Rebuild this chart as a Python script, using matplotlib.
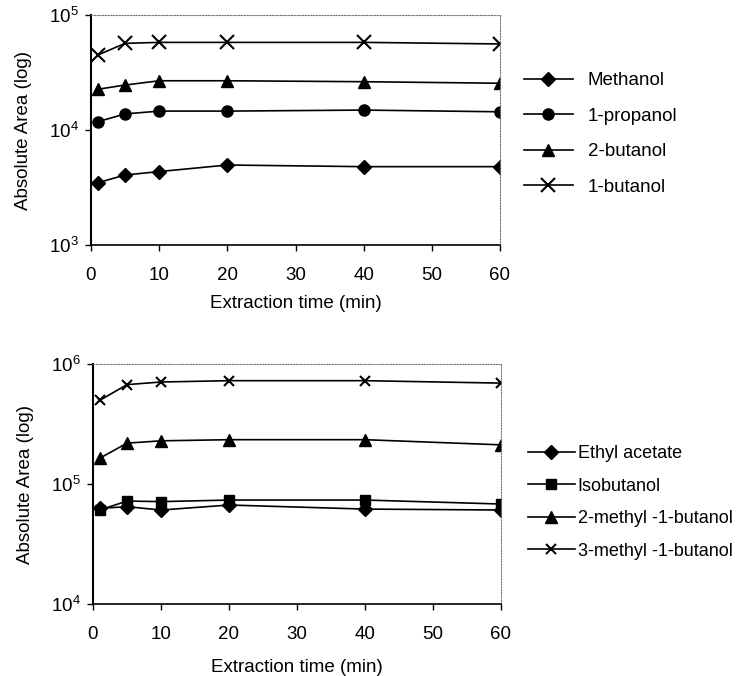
import matplotlib
matplotlib.use("Agg")
import matplotlib.pyplot as plt
from matplotlib.ticker import LogLocator, NullLocator, FixedLocator

plt.rcParams['font.family'] = ['Liberation Sans', 'DejaVu Sans']
plt.rcParams['mathtext.fontset'] = 'custom'
plt.rcParams['mathtext.rm'] = 'Liberation Sans'

time_min = [1, 5, 10, 20, 40, 60]

top_names = ["Methanol", "1-propanol", "2-butanol", "1-butanol"]
methanol = [3480, 4060, 4350, 4960, 4800, 4800]
propanol_1 = [11800, 13800, 14600, 14600, 14900, 14400]
butanol_2 = [22600, 24600, 26800, 26800, 26300, 25500]
butanol_1 = [44900, 56700, 57800, 57800, 57800, 56000]

bottom_names = ["Ethyl acetate", "Isobutanol", "2-methyl -1-butanol", "3-methyl -1-butanol"]
ethyl_acetate = [62700, 64700, 60700, 66800, 61800, 60700]
isobutanol = [60700, 72100, 71300, 73500, 73500, 68100]
methyl2_butanol1 = [164000, 219000, 229000, 234000, 234000, 212000]
methyl3_butanol1 = [498000, 673000, 708000, 726000, 726000, 693000]

x_ticks = [0, 10, 20, 30, 40, 50, 60]

fig = plt.figure(figsize=(7.41, 6.76), dpi=100)
ax1 = fig.add_axes([91/741, 1-245/676, 409/741, 230/676])
ax2 = fig.add_axes([93/741, 1-604/676, 408/741, 240/676])

FS = 13.5

def style(ax, ylim):
    ax.set_yscale('log')
    ax.set_xlim(0, 60)
    ax.set_ylim(*ylim)
    ax.xaxis.set_major_locator(FixedLocator(x_ticks))
    ax.yaxis.set_major_locator(LogLocator(base=10))
    ax.yaxis.set_minor_locator(NullLocator())
    ax.xaxis.set_minor_locator(NullLocator())
    for s in ['top', 'right']:
        ax.spines[s].set_linestyle((0, (1, 1.5)))
        ax.spines[s].set_color('#777777')
        ax.spines[s].set_linewidth(0.8)
    ax.spines['left'].set_linewidth(1.5)
    ax.spines['bottom'].set_linewidth(1.2)
    ax.tick_params(axis='both', direction='out', length=4, width=1, labelsize=FS)
    ax.tick_params(axis='x', pad=12)
    ax.tick_params(axis='y', pad=5)
    ax.set_ylabel('Absolute Area (log)', fontsize=FS, labelpad=12)

markers_top = ['D', 'o', '^', 'x']
sizes_top = [7, 8, 8, 10]
series_top = [methanol, propanol_1, butanol_2, butanol_1]
for name, vals, m, ms in zip(top_names, series_top, markers_top, sizes_top):
    ax1.plot(time_min, vals, color='black', lw=1.2, marker=m, ms=ms,
             mew=1.5 if m == 'x' else 1, label=name)
style(ax1, (1e3, 1e5))
ax1.set_xlabel('Extraction time (min)', fontsize=FS, labelpad=8)
ax1.legend(loc='upper left', bbox_to_anchor=(524/741, 1-72/676), bbox_transform=fig.transFigure,
           frameon=False, fontsize=FS, handlelength=2.6, handletextpad=0.8, labelspacing=0.98,
           borderaxespad=0, borderpad=0)

markers_bot = ['D', 's', '^', 'x']
sizes_bot = [7, 7, 8, 7]
series_bot = [ethyl_acetate, isobutanol, methyl2_butanol1, methyl3_butanol1]
for name, vals, m, ms in zip(bottom_names, series_bot, markers_bot, sizes_bot):
    ax2.plot(time_min, vals, color='black', lw=1.2, marker=m, ms=ms,
             mew=1.5 if m == 'x' else 1, label=name)
style(ax2, (1e4, 1e6))
ax2.set_xlabel('Extraction time (min)', fontsize=FS, labelpad=11)
ax2.legend(loc='upper left', bbox_to_anchor=(528/741, 1-445/676), bbox_transform=fig.transFigure,
           frameon=False, fontsize=13, handlelength=2.6, handletextpad=0.15, labelspacing=0.86,
           borderaxespad=0, borderpad=0)

fig.savefig('out.png', dpi=100)
